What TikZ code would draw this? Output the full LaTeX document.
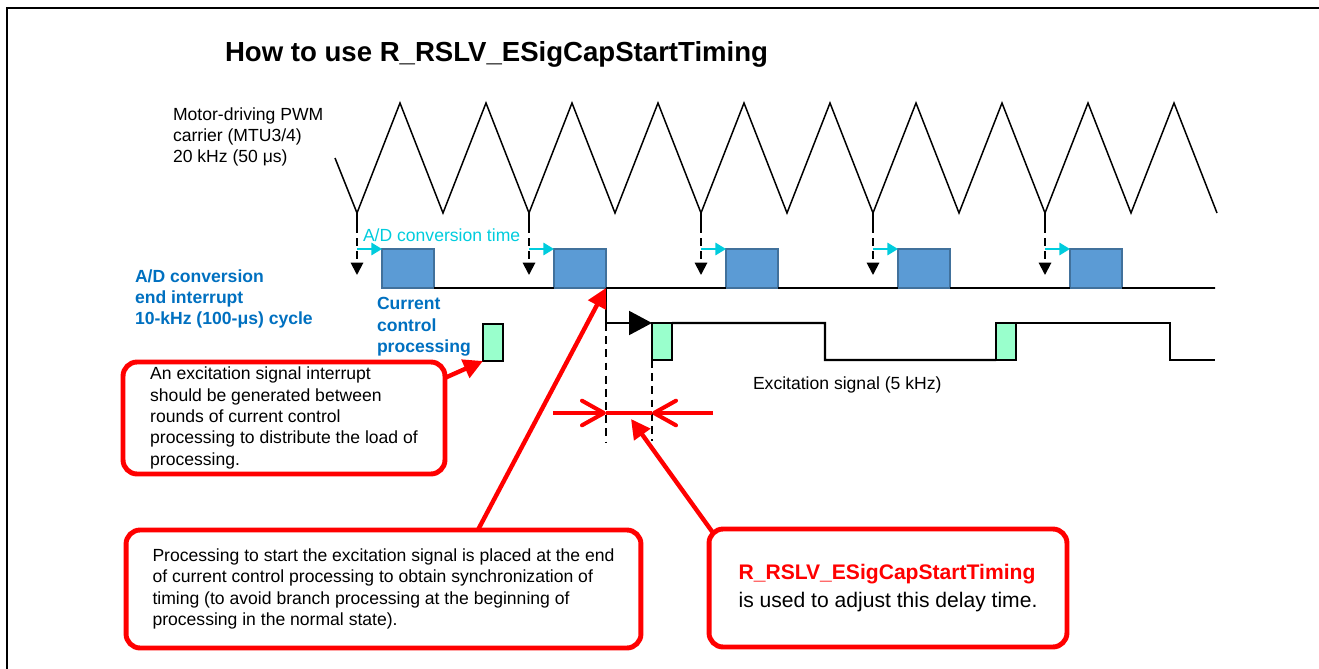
\documentclass[tikz,border=0pt]{standalone}
\usepackage{fontspec}
\setmainfont{Liberation Sans}
\usetikzlibrary{arrows.meta}
\definecolor{adblue}{RGB}{91,155,213}
\definecolor{adedge}{RGB}{65,113,156}
\definecolor{labelblue}{RGB}{0,112,192}
\definecolor{adcyan}{RGB}{0,204,221}
\definecolor{excgreen}{RGB}{153,255,204}

\begin{document}
\begin{tikzpicture}[x=0.02cm, y=-0.02cm,
        every node/.style={inner sep=0pt, outer sep=0pt, font=\fontsize{10}{12.2}\selectfont},
        wave/.style={line width=0.85pt},
        sig/.style={line width=1.1pt},
        excline/.style={line width=1.4pt},
        dashline/.style={line width=1.1pt, dash pattern=on 4.5pt off 3pt},
        cyanarrow/.style={adcyan, line width=1.1pt, -{Triangle[length=6pt, width=7pt]}},
        adbox/.style={draw=adedge, fill=adblue, line width=1pt, minimum width=1.04cm, minimum height=0.78cm, anchor=north west},
        excbox/.style={draw, fill=excgreen, line width=1.1pt, minimum width=0.4cm, minimum height=0.74cm, anchor=north west},
        callout/.style={draw=red, fill=white, line width=2.8pt, rounded corners=8pt, align=left},
        redarrow/.style={red, line width=2.5pt, -{Triangle[length=11pt, width=11pt]}},
        dimline/.style={red, line width=2.3pt},
        bluelabel/.style={text=labelblue, font=\fontsize{10}{12.2}\selectfont\bfseries, align=left, anchor=west}]
                \useasboundingbox (0,0) rectangle (1319,669);
                \draw[line width=1.4pt] (7,669) -- (7,8) -- (1319,8);
                \node[anchor=west, font=\fontsize{15.7}{18}\selectfont\bfseries] (title) at (225,54) {How to use R\_RSLV\_ESigCapStartTiming};

                \node[anchor=west, align=left] (pwm) at (173,137) {Motor-driving PWM\\carrier (MTU3/4)\\20 kHz (50 μs)};
                \draw[wave] (335,158) \foreach \k in {0,...,9} { -- (357+86*\k,213) -- (400+86*\k,103) } -- (1217,213);

                \foreach \x [count=\n] in {357,529,701,873,1045} {
                    \coordinate (v\n) at (\x,213);
                    \node[adbox] (ad\n) at (\x+25,249) {};
                    \draw[sig] (v\n) -- ++(0,12) coordinate (t\n);
                    \draw[dashline, -{Triangle[length=7pt, width=7pt]}] (t\n) -- ++(0,50);
                    \draw[cyanarrow] (v\n |- ad\n.north west) -- (ad\n.north west);
                }
                \foreach \a/\b in {1/2, 2/3, 3/4, 4/5}
                    \draw[sig] (ad\a.south east) -- (ad\b.south west);
                \draw[sig] (ad5.south east) -- (1215,288);
                \node[anchor=west, text=adcyan] (adtime) at (363,235) {A/D conversion time};

                \node[bluelabel] (adlabel) at (135,299) {A/D conversion\\end interrupt\\10-kHz (100-μs) cycle};
                \node[bluelabel] (cclabel) at (377,327) {Current\\control\\processing};

                \node[excbox] (g0) at (483,324) {};
                \node[excbox] (exc1) at (652,323) {};
                \node[excbox] (exc2) at (996,323) {};
                \draw[excline] (exc1.north east) -| (825,360) -- (exc2.south west);
                \draw[excline] (exc2.north east) -| (1170,360) -- (1215,360);
                \draw[excline, -{Triangle[length=13pt, width=13.5pt]}] (ad2.south east) |- (exc1.north west);
                \node[anchor=west] (exclabel) at (753,385) {Excitation signal (5 kHz)};

                \draw[dashline] (ad2.south east |- exc1.north west) -- ++(0,119);
                \draw[dashline] (exc1.south west) -- ++(0,81);
                \coordinate (dl) at (553,413);
                \coordinate (dr) at (713,413);
                \draw[dimline] (ad2.south east |- dl) -- (exc1.south west |- dr);
                \draw[dimline, -{Straight Barb[length=12.5pt, width=14pt, round]}] (dl) -- (ad2.south east |- dl);
                \draw[dimline, -{Straight Barb[length=12.5pt, width=14pt, round]}] (dr) -- (exc1.south west |- dr);

                \node[callout, minimum width=6.44cm, minimum height=2.24cm] (intnote) at (284,418) {An excitation signal interrupt\\should be generated between\\rounds of current control\\processing to distribute the load of\\processing.};
                \node[callout, minimum width=10.3cm, minimum height=2.36cm] (startnote) at (383.5,589) {Processing to start the excitation signal is placed at the end\\of current control processing to obtain synchronization of\\timing (to avoid branch processing at the beginning of\\processing in the normal state).};
                \node[callout, minimum width=7.16cm, minimum height=2.36cm, font=\fontsize{12}{16}\selectfont] (adjnote) at (888,588) {\textcolor{red}{\bfseries R\_RSLV\_ESigCapStartTiming}\\is used to adjust this delay time.};

                \coordinate (delay) at (631,419);
                \draw[redarrow] (intnote.14) -- (g0.south west);
                \draw[redarrow] (startnote.32) -- (ad2.south east);
                \draw[redarrow] ([xshift=2.5pt, yshift=-2.5pt]adjnote.north west) -- (delay);
\end{tikzpicture}
\end{document}
